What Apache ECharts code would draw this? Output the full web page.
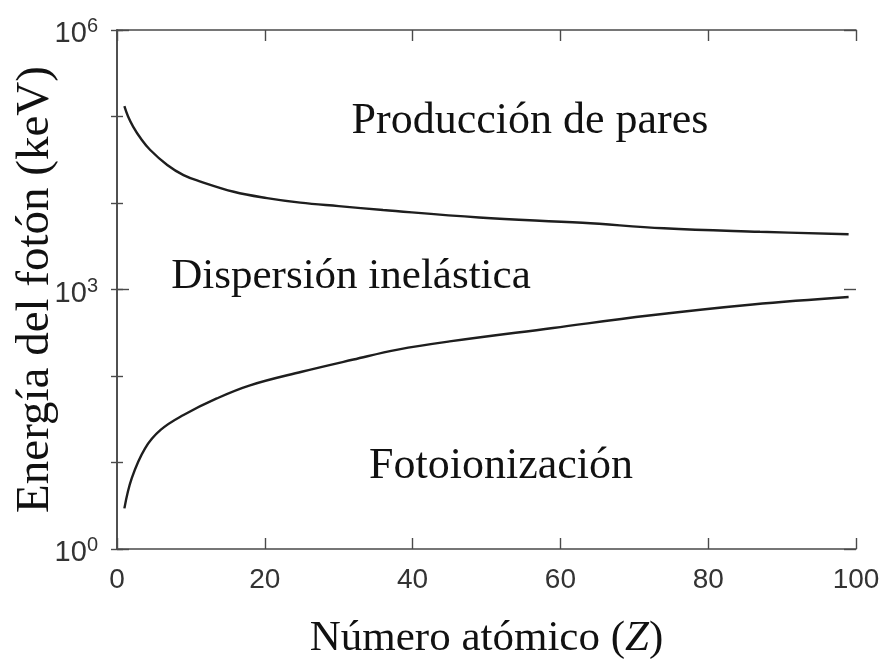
<!DOCTYPE html>
<html>
<head>
<meta charset="utf-8">
<script src="https://cdn.jsdelivr.net/npm/echarts@6/dist/echarts.min.js"></script>
<style>
  html, body { margin: 0; padding: 0; background: #fff; }
  #chart { width: 887px; height: 661px; }
</style>
</head>
<body>
<div id="chart"></div>
<script>
// Boundary between pair production and inelastic scattering (keV vs Z)
const pairZ = [1, 1.5, 2.2, 3.2, 4.5, 6.8, 9, 11.3, 15.8, 20.3, 24.8, 30, 36, 49, 63, 74, 87, 99];
const pairE = [1.32e5, 1.0e5, 7.6e4, 5.6e4, 4.1e4, 2.75e4, 2.1e4, 1.77e4, 1.35e4, 1.14e4, 1.01e4, 9.2e3, 8.3e3, 6.8e3, 5.9e3, 5.1e3, 4.65e3, 4.35e3];

// Boundary between photoionization and inelastic scattering (keV vs Z)
const photoZ = [1, 2, 3.8, 5.9, 9, 13.5, 18, 25, 32, 38, 45, 59, 72, 86, 99];
const photoE = [2.95, 6.6, 14.6, 23.8, 35.4, 55, 78, 112, 155, 202, 251, 359, 500, 671, 819];

// Region names and axis titles
const regionLabels = ['Producción de pares', 'Dispersión inelástica', 'Fotoionización'];
const xTitle = 'Número atómico ({i|Z})';
const yTitle = 'Energía del fotón (keV)';
const xTicks = [0, 20, 40, 60, 80, 100];

const serif = '"Liberation Serif", "Times New Roman", serif';
const sans = '"Liberation Sans", Arial, sans-serif';
const axisColor = '#4a4a4a';

const toPairs = (xs, ys) => xs.map((x, i) => [x, ys[i]]);

const chart = echarts.init(document.getElementById('chart'), null, { renderer: 'canvas' });

function logLabel(v) {
  const e = Math.round(Math.log10(v));
  return e % 3 === 0 ? '{b|10}{s|' + e + '}' : '';
}

const yBase = {
  type: 'log',
  logBase: 10,
  min: 1,
  max: 1e6,
  splitLine: { show: false },
  axisLine: { show: true, lineStyle: { color: axisColor, width: 1.6 } }
};

const regionFont = '44px ' + serif;

chart.setOption({
  animation: false,
  backgroundColor: '#fff',
  grid: { left: 117, right: 31, top: 30, bottom: 112, containLabel: false, outerBoundsMode: 'none' },
  xAxis: [
    {
      type: 'value',
      position: 'bottom',
      min: xTicks[0],
      max: xTicks[xTicks.length - 1],
      interval: 20,
      splitLine: { show: false },
      axisLine: { show: true, onZero: false, lineStyle: { color: axisColor, width: 1.6 } },
      axisTick: { show: true, inside: true, length: 11, lineStyle: { color: axisColor, width: 1.4 } },
      axisLabel: { color: '#333', fontFamily: sans, fontSize: 28, margin: 17 },
      name: xTitle,
      nameLocation: 'middle',
      nameGap: 68,
      nameMoveOverlap: false,
      nameTextStyle: {
        color: '#111', fontFamily: serif, fontSize: 43,
        rich: { i: { fontStyle: 'italic', fontFamily: serif, fontSize: 43, color: '#111' } }
      }
    },
    {
      type: 'value',
      position: 'top',
      min: xTicks[0],
      max: xTicks[xTicks.length - 1],
      interval: 20,
      splitLine: { show: false },
      axisLine: { show: true, onZero: false, lineStyle: { color: axisColor, width: 1.6 } },
      axisTick: { show: true, inside: true, length: 11, lineStyle: { color: axisColor, width: 1.4 } },
      axisLabel: { show: false }
    }
  ],
  yAxis: [
    Object.assign({}, yBase, {
      position: 'left',
      interval: 1,
      axisTick: { show: true, inside: true, length: 6, lineStyle: { color: axisColor, width: 1.4 } },
      axisLabel: {
        formatter: logLabel,
        margin: 19,
        rich: {
          b: { fontFamily: sans, fontSize: 29, color: '#333', lineHeight: 34, padding: [8, 0, 0, 0] },
          s: { fontFamily: sans, fontSize: 20, color: '#333', lineHeight: 34, padding: [0, 0, 7, 0] }
        }
      },
      name: yTitle,
      nameLocation: 'middle',
      nameGap: 58,
      nameMoveOverlap: false,
      nameTextStyle: { color: '#111', fontFamily: serif, fontSize: 47 }
    }),
    Object.assign({}, yBase, {
      position: 'right',
      interval: 1,
      axisTick: { show: true, inside: true, length: 6, lineStyle: { color: axisColor, width: 1.4 } },
      axisLabel: { show: false }
    }),
    Object.assign({}, yBase, {
      position: 'left',
      interval: 3,
      axisLine: { show: false },
      axisTick: { show: true, inside: true, length: 12, lineStyle: { color: axisColor, width: 1.4 } },
      axisLabel: { show: false }
    }),
    Object.assign({}, yBase, {
      position: 'right',
      interval: 3,
      axisLine: { show: false },
      axisTick: { show: true, inside: true, length: 12, lineStyle: { color: axisColor, width: 1.4 } },
      axisLabel: { show: false }
    })
  ],
  series: [
    {
      type: 'line',
      xAxisIndex: 0,
      yAxisIndex: 0,
      data: toPairs(pairZ, pairE),
      smooth: 0.4,
      showSymbol: false,
      lineStyle: { color: '#1e1e1e', width: 2.4 }
    },
    {
      type: 'line',
      xAxisIndex: 0,
      yAxisIndex: 0,
      data: toPairs(photoZ, photoE),
      smooth: 0.4,
      showSymbol: false,
      lineStyle: { color: '#1e1e1e', width: 2.4 }
    }
  ],
  graphic: [
    { type: 'text', x: 530, y: 121, style: { text: regionLabels[0], fill: '#111', font: regionFont, align: 'center', verticalAlign: 'middle' } },
    { type: 'text', x: 351, y: 277, style: { text: regionLabels[1], fill: '#111', font: '43px ' + serif, align: 'center', verticalAlign: 'middle' } },
    { type: 'text', x: 501, y: 466, style: { text: regionLabels[2], fill: '#111', font: regionFont, align: 'center', verticalAlign: 'middle' } }
  ]
});
</script>
</body>
</html>
